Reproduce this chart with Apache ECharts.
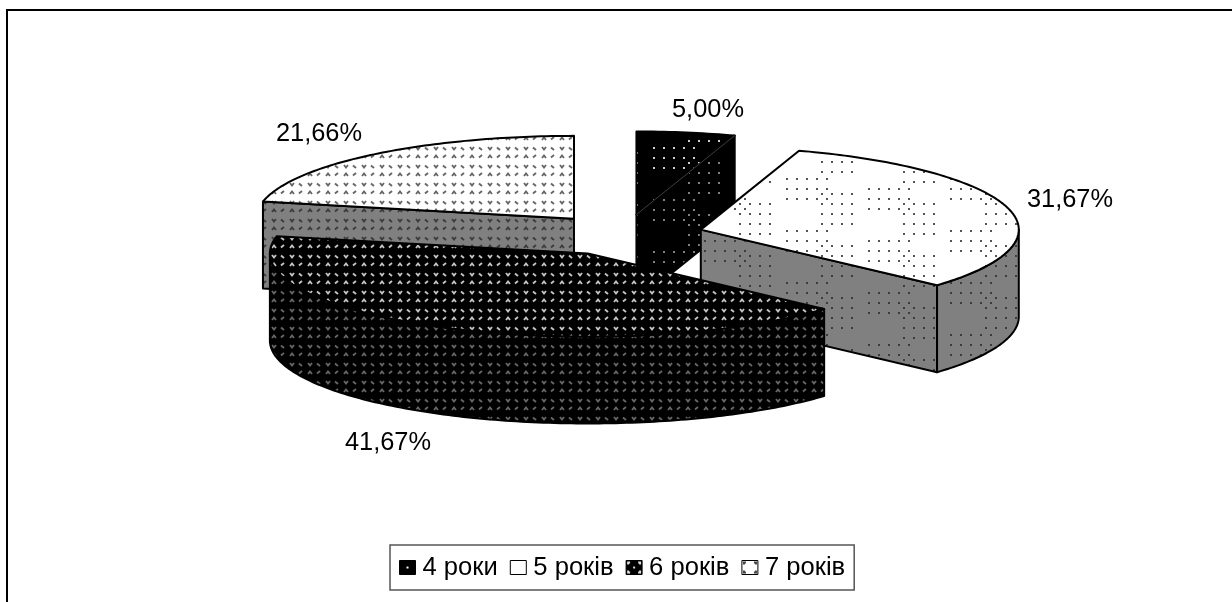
<!DOCTYPE html>
<html><head><meta charset="utf-8">
<style>html,body{margin:0;padding:0;background:#fff}#c{width:1232px;height:602px}</style>
<script src="https://cdn.jsdelivr.net/npm/echarts@6/dist/echarts.min.js"></script>
</head><body><div id="c"></div>
<script>
const categories = ['4 роки', '5 років', '6 років', '7 років'];
const shares = [5.00, 31.67, 41.67, 21.66];

const FONT = '"Liberation Sans", Arial, sans-serif';
const PIE = {cx: 624, cy: 235, a: 318, b: 83, h: 87, explode: 0.25};
const labelAt = [[708,110],[1070,200],[388,443],[319,134]];
const drawOrder = [3,0,1,2];

function tile(w,h,bg,paint){
  const c=document.createElement('canvas');c.width=w;c.height=h;
  const g=c.getContext('2d');g.fillStyle=bg;g.fillRect(0,0,w,h);paint(g,w,h);
  return {image:c,repeat:'repeat'};
}
const mod=(v,m)=>((v%m)+m)%m;
function dots(bg,col,ax,ay){
  return tile(164,52,bg,(g,w,h)=>{
    g.fillStyle=col;
    const put=(x,y)=>g.fillRect(mod(x,w),mod(y,h),2,2);
    [[0,0],[82,-10]].forEach(([ox,oy])=>{
      for(let i=0;i<5;i++)for(let j=0;j<3;j++)put(ax+ox+i*10,ay+oy+j*10);
      for(let i=0;i<4;i++)for(let j=0;j<4;j++)put(ax+ox+35+i*10,ay+oy+15+j*10);
    });
  });
}
function rosette(bg,col){
  return tile(18,18,bg,(g)=>{
    g.strokeStyle=col;g.lineWidth=1.9;g.lineCap='butt';g.lineJoin='miter';
    const path=(pts)=>{g.beginPath();pts.forEach((p,k)=>k?g.lineTo(p[0],p[1]):g.moveTo(p[0],p[1]));g.stroke();};
    path([[2,3],[4,5.5],[6,3]]);
    path([[2,14],[4,11.5],[6,14]]);
    path([[11,3.5],[14,6]]);
    path([[14,11],[11,13.5]]);
  });
}
function swatch(bg,col,full){
  return tile(16,14,bg,(g)=>{
    g.fillStyle=col;
    if(full){g.fillRect(1,1,3,2);g.fillRect(1,1,2,3);g.fillRect(12,1,3,2);g.fillRect(13,1,2,3);
      g.fillRect(1,11,3,2);g.fillRect(1,10,2,3);g.fillRect(12,11,3,2);g.fillRect(13,10,2,3);}
    if(bg==='#000000')g.fillRect(7,6,2,2);
  });
}
const topFill=[dots('#000000','#cfcfcf',653,147),dots('#ffffff','#555555',868,188),rosette('#000000','#c4c4c4'),rosette('#ffffff','#666666')];
const sideFill=[dots('#000000','#808080',653,147),dots('#808080','#3c3c3c',868,188),rosette('#000000','#666666'),rosette('#808080','#3c3c3c')];
const legendFill=[swatch('#000000','#fff',false),swatch('#ffffff','#555',false),swatch('#000000','#ddd',true),swatch('#ffffff','#444',true)];

const total=shares.reduce((s,v)=>s+v,0);
const starts=[];shares.reduce((s,v,i)=>{starts[i]=s;return s+v;},0);
const rad=d=>d*Math.PI/180;

function renderSlice(i){
  return function(params,api){
    const v=api.value(0);
    const t1=starts[i]/total*360, t2=t1+v/total*360, mid=rad((t1+t2)/2);
    const ax=PIE.cx+PIE.explode*PIE.a*Math.sin(mid), ay=PIE.cy-PIE.explode*PIE.b*Math.cos(mid);
    const pt=(d,dz)=>[ax+PIE.a*Math.sin(rad(d)), ay-PIE.b*Math.cos(rad(d))+(dz||0)];
    const arc=(a,b,dz)=>{const o=[];const n=Math.max(2,Math.ceil(Math.abs(b-a)));for(let k=0;k<=n;k++)o.push(pt(a+(b-a)*k/n,dz));return o;};
    const kids=[];
    const poly=(points,fill,lw)=>kids.push({type:'polygon',shape:{points},style:{fill,stroke:'#000',lineWidth:lw===undefined?2:lw,lineJoin:'round'}});
    const radial=d=>{const p=pt(d),q=pt(d,PIE.h);poly([[ax,ay],p,q,[ax,ay+PIE.h]],sideFill[i]);};
    if(Math.sin(rad(t1))<-1e-6)radial(t1);
    if(Math.sin(rad(t2))>1e-6)radial(t2);
    const f1=Math.max(t1,90),f2=Math.min(t2,270);
    if(f2>f1)poly(arc(f1,f2,0).concat(arc(f2,f1,PIE.h)),sideFill[i]);
    poly([[ax,ay]].concat(arc(t1,t2,0)),topFill[i]);
    if(i===0)kids.push({type:'line',shape:{x1:ax,y1:ay,x2:pt(t2)[0],y2:pt(t2)[1]},style:{stroke:'#6a6a6a',lineWidth:0.6}});
    kids.push({type:'text',style:{text:v.toFixed(2).replace('.',',')+'%',x:labelAt[i][0],y:labelAt[i][1],
      align:'center',verticalAlign:'middle',fill:'#000',font:'25.4px '+FONT},z2:50});
    return {type:'group',children:kids};
  };
}

const chart=echarts.init(document.getElementById('c'),null,{renderer:'canvas',devicePixelRatio:1});
chart.setOption({
  animation:false,
  backgroundColor:'#fff',
  graphic:[
    {type:'line',shape:{x1:7,y1:10,x2:1232,y2:10},style:{stroke:'#000',lineWidth:2}},
    {type:'line',shape:{x1:7,y1:9,x2:7,y2:602},style:{stroke:'#000',lineWidth:2}}
  ],
  legend:{
    left:390,top:545,selectedMode:false,orient:'horizontal',
    padding:[9,9,9,9],itemGap:12,itemWidth:16,itemHeight:14,
    backgroundColor:'#fff',borderColor:'#555',borderWidth:1.5,
    icon:'rect',
    textStyle:{fontFamily:FONT,fontSize:25.6,color:'#000',padding:[0,0,0,2],lineHeight:27},
    data:categories.map((name,i)=>({name,icon:'rect',itemStyle:{color:legendFill[i],borderColor:'#000',borderWidth:1}}))
  },
  series:drawOrder.map((i,k)=>({
    type:'custom',name:categories[i],coordinateSystem:'none',z:2+k,silent:true,
    itemStyle:{color:legendFill[i]},
    renderItem:renderSlice(i),
    data:[{name:categories[i],value:[shares[i]]}]
  }))
});
</script></body></html>
